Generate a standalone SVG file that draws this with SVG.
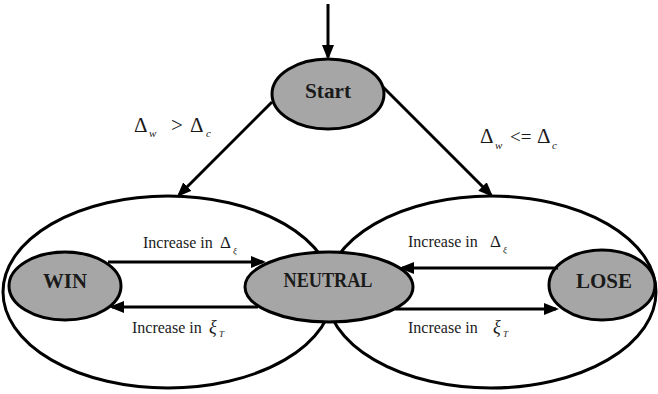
<svg xmlns="http://www.w3.org/2000/svg" width="658" height="394" viewBox="0 0 658 394">
<style>
.big{fill:none;stroke:#000;stroke-width:3}
.node{fill:#a6a6a6;stroke:#000;stroke-width:3}
text{font-family:'Liberation Serif','DejaVu Serif',serif;fill:#1a1a1a}
.lbl{font-weight:bold;font-size:20px;text-anchor:middle}
.t{font-size:16px}
.m{font-size:21px}
.s{font-size:11px;font-style:italic}
.e{fill:none;stroke:#000;stroke-width:3}
</style>
<defs>
<marker id="ah" markerUnits="userSpaceOnUse" markerWidth="16" markerHeight="14" refX="12" refY="6" orient="auto">
<path d="M0,0 L15,6 L0,12 z" fill="#000"/>
</marker>
</defs>
<g id="regions">
<ellipse class="big" cx="168" cy="292" rx="165" ry="96"/>
<ellipse class="big" cx="491" cy="292" rx="165" ry="96"/>
</g>
<g id="start">
<ellipse class="node" cx="328" cy="94" rx="56" ry="35"/>
<text class="lbl" x="328" y="98" textLength="46" lengthAdjust="spacingAndGlyphs" style="font-size:21px">Start</text>
</g>
<g id="win">
<ellipse class="node" cx="65" cy="286" rx="56" ry="34"/>
<text class="lbl" x="65" y="288" textLength="44" lengthAdjust="spacingAndGlyphs">WIN</text>
</g>
<g id="neutral">
<ellipse class="node" cx="329" cy="287" rx="84" ry="35"/>
<text class="lbl" x="328" y="287" textLength="89" lengthAdjust="spacingAndGlyphs">NEUTRAL</text>
</g>
<g id="lose">
<ellipse class="node" cx="602" cy="285" rx="53" ry="35"/>
<text class="lbl" x="604" y="288" textLength="56" lengthAdjust="spacingAndGlyphs">LOSE</text>
</g>
<g id="connectors">
<path class="e" d="M328,4 L328,57" marker-end="url(#ah)"/>
<path class="e" d="M272,102 L179,195" marker-end="url(#ah)"/>
<path class="e" d="M383,87 L491,195" marker-end="url(#ah)"/>
<path class="e" d="M108,262 L263,262" marker-end="url(#ah)"/>
<path class="e" d="M258,307 L112,307" marker-end="url(#ah)"/>
<path class="e" d="M558,268 L402,268" marker-end="url(#ah)"/>
<path class="e" d="M395,309 L556,309" marker-end="url(#ah)"/>
</g>
<g id="labels">
<text class="m" x="134" y="132">Δ</text>
<text class="s" x="149" y="137">w</text>
<text class="m" x="171" y="132">&gt;</text>
<text class="m" x="190" y="132">Δ</text>
<text class="s" x="206" y="137">c</text>

<text class="m" x="480" y="143">Δ</text>
<text class="s" x="495" y="149">w</text>
<text class="m" x="510" y="143" style="font-size:19px">&lt;=</text>
<text class="m" x="537" y="143">Δ</text>
<text class="s" x="552" y="149">c</text>

<text class="t" x="143" y="248">Increase in</text>
<text class="t" x="220" y="248" style="font-size:17px">Δ</text>
<text class="s" x="233" y="254" style="font-size:9px">ξ</text>

<text class="t" x="132" y="333">Increase in</text>
<text class="t" x="209" y="333" style="font-style:italic;font-size:18px">ξ</text>
<text class="s" x="219" y="337" style="font-size:9px">T</text>

<text class="t" x="408" y="247">Increase in</text>
<text class="t" x="490" y="247" style="font-size:17px">Δ</text>
<text class="s" x="503" y="253" style="font-size:9px">ξ</text>

<text class="t" x="408" y="333">Increase in</text>
<text class="t" x="493" y="333" style="font-style:italic;font-size:18px">ξ</text>
<text class="s" x="503" y="337" style="font-size:9px">T</text>
</g>
</svg>
